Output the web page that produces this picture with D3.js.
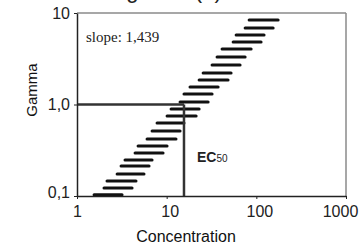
<!DOCTYPE html>
<html><head><meta charset="utf-8">
<script src="https://cdn.jsdelivr.net/npm/d3@7"></script>
<style>
html,body{margin:0;padding:0;background:#fff;}
svg{display:block;}
</style></head>
<body>
<svg id="c" width="361" height="247"></svg>
<script>
// Data
const gamma = [0.103,0.122,0.146,0.174,0.213,0.247,0.295,0.352,0.420,0.513,0.628,0.748,0.893,1.065,1.30,1.55,1.85,2.21,2.70,3.31,4.04,4.82,5.75,6.86,8.39];
const concLow = [1.55,2.00,2.16,2.80,3.10,3.43,4.44,4.80,6.04,6.87,7.81,10.1,11.2,14.1,15.6,18.2,23.0,25.5,32.1,36.5,41.5,55.1,59.5,75.0,83.1];
const concHigh = [3.18,4.11,4.55,5.59,6.36,6.87,9.12,10.1,12.7,14.1,15.6,21.3,23.0,29.0,32.1,37.5,48.4,52.3,65.9,75.0,87.5,113,122,154,175];
const xTicks = [1,10,100,1000];
const xTickLabels = ["1","10","100","1000"];
const yTicks = [0.1,1,10];
const yTickLabels = ["0,1","1,0","10"];
const ec50 = 15.6;
const ecGamma = 1.0;
const slopeLabel = "slope: 1,439";
const titleText = "Figure 3 (b)";

const svg = d3.select("#c");
const L=77, R=346, T=13, B=196;
const x = d3.scaleLog().domain([1,1000]).range([L,R]);
const y = d3.scaleLog().domain([0.1,10]).range([B,T]);
const font = "Liberation Sans, Arial, sans-serif";

// clipped title (only its descenders show at the top edge)
svg.append("text").attr("x",108).attr("y",-2.5)
  .attr("font-family",font).attr("font-size",22)
  .attr("fill","#222").text(titleText);

// frame top/right
svg.append("line").attr("x1",L).attr("x2",R).attr("y1",T).attr("y2",T).attr("stroke","#8a8a8a").attr("stroke-width",1.5);
svg.append("line").attr("x1",R).attr("x2",R).attr("y1",T).attr("y2",B).attr("stroke","#8a8a8a").attr("stroke-width",1.5);

// dashes
svg.append("g").selectAll("line").data(gamma).join("line")
  .attr("x1",(d,i)=>x(concLow[i])).attr("x2",(d,i)=>x(concHigh[i]))
  .attr("y1",d=>y(d)).attr("y2",d=>y(d))
  .attr("stroke","#111").attr("stroke-width",3).attr("stroke-linecap","round");

// EC50 lines
svg.append("line").attr("x1",L).attr("x2",x(ec50)).attr("y1",y(ecGamma)).attr("y2",y(ecGamma))
  .attr("stroke","#333").attr("stroke-width",2.5);
svg.append("line").attr("x1",x(ec50)).attr("x2",x(ec50)).attr("y1",y(ecGamma)).attr("y2",B)
  .attr("stroke","#333").attr("stroke-width",2.5);

// axes
const xa = svg.append("g").attr("transform",`translate(0,${B})`)
  .call(d3.axisBottom(x).tickValues(xTicks).tickFormat((d,i)=>xTickLabels[i]).tickSize(3).tickSizeOuter(0));
const ya = svg.append("g").attr("transform",`translate(${L},0)`)
  .call(d3.axisLeft(y).tickValues(yTicks).tickFormat((d,i)=>yTickLabels[i]).tickSize(3).tickSizeOuter(0));
[xa,ya].forEach(a=>{
  a.select(".domain").attr("stroke","#222").attr("stroke-width",1.5);
  a.selectAll(".tick line").attr("stroke","#222");
  a.selectAll("text").attr("font-family",font).attr("font-size",16).attr("fill","#222");
});
xa.selectAll("text").attr("dy","0.95em");
ya.selectAll("text").attr("x",-7).attr("dy","0.32em");
xa.selectAll(".tick").filter(d=>d===10).select("text").attr("dx",3);
xa.selectAll(".tick").filter(d=>d===100).select("text").attr("dx",3);
xa.selectAll(".tick").filter(d=>d===1000).select("text").attr("dx",-6);
ya.selectAll(".tick").filter(d=>d===0.1).select("text").attr("dy","0.1em");

// axis titles
svg.append("text").attr("x",186).attr("y",242).attr("text-anchor","middle")
  .attr("font-family",font).attr("font-size",16).attr("fill","#111").text("Concentration");
svg.append("text").attr("transform",`translate(37,90) rotate(-90)`).attr("text-anchor","middle")
  .attr("font-family",font).attr("font-size",15).attr("fill","#111").text("Gamma");

// slope
svg.append("text").attr("x",86).attr("y",42).attr("font-family","Liberation Serif, Times New Roman, serif")
  .attr("font-size",15).attr("fill","#222").text(slopeLabel);

// EC50 label
const ec = svg.append("text").attr("x",197).attr("y",162).attr("font-family",font)
  .attr("font-weight","bold").attr("font-size",14).attr("fill","#222");
ec.append("tspan").text("EC");
ec.append("tspan").attr("font-size",10).attr("font-weight","normal").text("50");
</script>
</body></html>
